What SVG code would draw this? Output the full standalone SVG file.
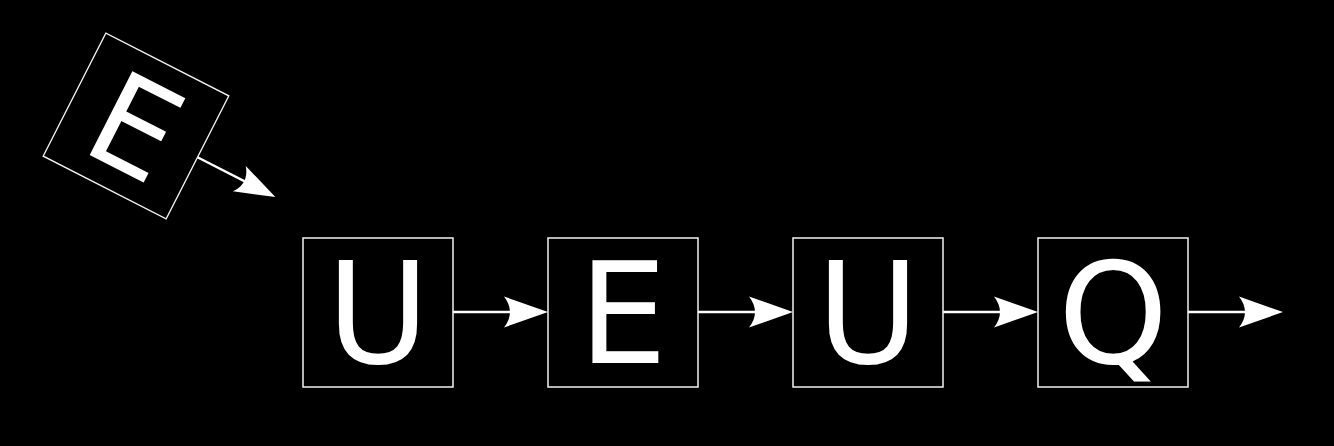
<svg xmlns="http://www.w3.org/2000/svg" width="1334" height="446" viewBox="0 0 1334 446">
<style>
.box{fill:#000;stroke:#f2f2f2;stroke-width:1.5}
.lbl{fill:#fff;font-family:"DejaVu Sans",sans-serif;font-size:140px;text-anchor:middle}
.conn{stroke:#fff;stroke-width:2.5;fill:none}
.head{fill:#fff}
</style>
<defs>
<path id="ah" class="head" d="M0,0 L-44,-15.5 Q-32,0 -44,15.5 Z"/>
</defs>
<rect width="1334" height="446" fill="#000"/>
<g id="connectors">
<line class="conn" x1="453" y1="312" x2="530" y2="312"/>
<use href="#ah" transform="translate(548,312)"/>
<line class="conn" x1="698" y1="312" x2="775" y2="312"/>
<use href="#ah" transform="translate(793,312)"/>
<line class="conn" x1="943" y1="312" x2="1020" y2="312"/>
<use href="#ah" transform="translate(1038,312)"/>
<line class="conn" x1="1188" y1="312" x2="1265" y2="312"/>
<use href="#ah" transform="translate(1283,312)"/>
<g transform="translate(136,126) rotate(27) scale(0.92)">
<line class="conn" x1="75" y1="0" x2="152" y2="0"/>
<use href="#ah" transform="translate(170,0)"/>
</g>
</g>
<g id="node-e0" transform="translate(136,126) rotate(27) scale(0.92)">
<rect class="box" x="-75" y="-75" width="150" height="150"/>
<text class="lbl" x="0" y="51">E</text>
</g>
<g id="node-u1">
<rect class="box" x="303" y="238" width="150" height="149"/>
<text class="lbl" x="378" y="363">U</text>
</g>
<g id="node-e2">
<rect class="box" x="548" y="238" width="150" height="149"/>
<text class="lbl" x="623" y="363">E</text>
</g>
<g id="node-u3">
<rect class="box" x="793" y="238" width="150" height="149"/>
<text class="lbl" x="868" y="363">U</text>
</g>
<g id="node-q4">
<rect class="box" x="1038" y="238" width="150" height="149"/>
<text class="lbl" x="1113" y="363">Q</text>
</g>
</svg>
